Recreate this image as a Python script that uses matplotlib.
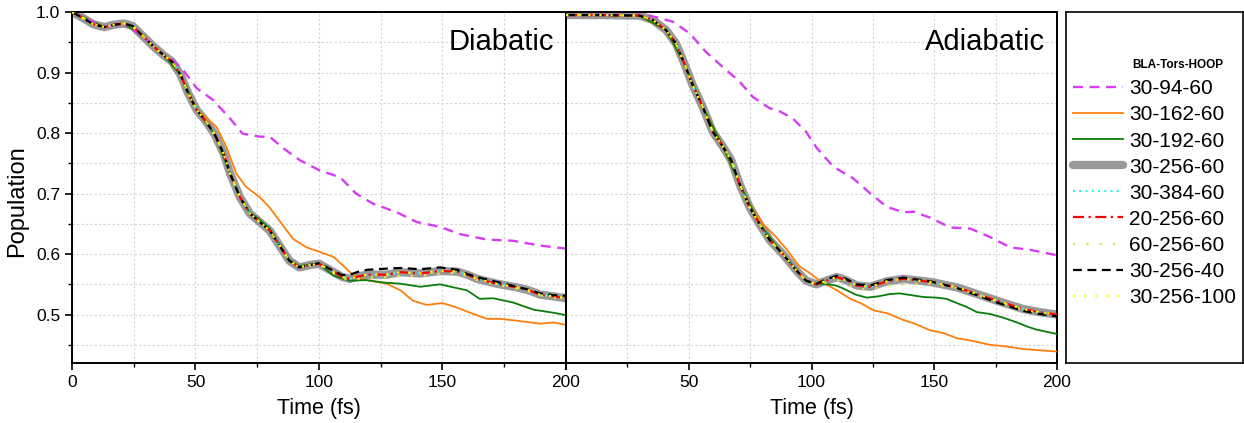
import numpy as np
import matplotlib
matplotlib.use('Agg')
import matplotlib.pyplot as plt
from matplotlib.lines import Line2D
from matplotlib.ticker import MultipleLocator, FixedLocator

plt.rcParams['font.family'] = ['Liberation Sans', 'DejaVu Sans']

# ---------------- diabatic population ----------------
t_dia_main = [0, 4.5, 8.5, 13, 17, 21, 24.5, 29, 33, 37, 40.5, 44, 47, 50.5, 54.5, 58, 61.5, 64,
              68, 72, 76, 80, 84, 88, 92, 96.5, 100, 106, 109.5, 112.5, 116, 119.5, 127.5, 133,
              141, 149, 156, 160, 164, 168, 172, 180, 185, 189.5, 195, 200]
p_dia_main = [1.000, 0.990, 0.980, 0.975, 0.979, 0.981, 0.977, 0.959, 0.943, 0.929, 0.918, 0.896,
              0.866, 0.838, 0.818, 0.796, 0.765, 0.733, 0.694, 0.667, 0.653, 0.639, 0.614, 0.589,
              0.578, 0.582, 0.584, 0.570, 0.562, 0.559, 0.563, 0.566, 0.566, 0.570, 0.568, 0.572,
              0.571, 0.566, 0.559, 0.555, 0.551, 0.545, 0.540, 0.533, 0.530, 0.527]
# 30-256-40 sits a little higher after ~115 fs
p_dia_40 = [1.000, 0.990, 0.980, 0.975, 0.979, 0.981, 0.977, 0.959, 0.943, 0.929, 0.918, 0.896,
            0.866, 0.838, 0.818, 0.796, 0.765, 0.733, 0.694, 0.667, 0.653, 0.639, 0.614, 0.589,
            0.578, 0.582, 0.585, 0.572, 0.565, 0.566, 0.571, 0.574, 0.576, 0.577, 0.575, 0.578,
            0.574, 0.567, 0.562, 0.558, 0.554, 0.546, 0.541, 0.535, 0.532, 0.531]
# 60-256-60 runs along the lower edge of the band
p_dia_60hi = [1.000, 0.990, 0.980, 0.975, 0.979, 0.981, 0.977, 0.959, 0.943, 0.929, 0.918, 0.896,
              0.866, 0.838, 0.818, 0.796, 0.765, 0.733, 0.694, 0.667, 0.653, 0.639, 0.614, 0.589,
              0.578, 0.582, 0.583, 0.568, 0.560, 0.557, 0.559, 0.561, 0.562, 0.564, 0.564, 0.568,
              0.569, 0.563, 0.557, 0.553, 0.549, 0.543, 0.538, 0.532, 0.528, 0.526]

t_dia_94 = [0, 13, 21, 29, 37, 40, 44.5, 50.5, 57, 64, 69, 76, 80, 85.5, 92.3, 100.4, 108.5, 115,
            122, 131.5, 139.5, 149, 157, 168, 178.5, 189.5, 200]
p_dia_94 = [1.000, 0.975, 0.981, 0.959, 0.929, 0.923, 0.907, 0.874, 0.855, 0.824, 0.799, 0.794,
            0.794, 0.775, 0.755, 0.738, 0.727, 0.700, 0.683, 0.669, 0.653, 0.645, 0.633, 0.624,
            0.622, 0.614, 0.609]

t_dia_162 = [0, 13, 21, 29, 37, 44, 50.5, 53, 58.5, 62.5, 66.5, 70.5, 76, 80, 84, 89.5, 95, 100,
             106, 110, 112.5, 116, 119.5, 127.5, 133, 138, 143.5, 150, 155.5, 162.5, 168, 173,
             180, 189.5, 195, 200]
p_dia_162 = [1.000, 0.975, 0.981, 0.959, 0.929, 0.896, 0.838, 0.830, 0.810, 0.777, 0.733, 0.711,
             0.694, 0.677, 0.655, 0.625, 0.611, 0.604, 0.595, 0.580, 0.570, 0.560, 0.557, 0.551,
             0.540, 0.523, 0.516, 0.519, 0.512, 0.501, 0.493, 0.493, 0.490, 0.485, 0.487, 0.483]

t_dia_192 = [0, 13, 21, 29, 37, 44, 50.5, 58, 64, 68, 72, 75, 80, 84, 88, 92, 96.5, 100, 106,
             112.5, 119, 126, 133, 141, 149, 155.5, 160, 165, 170.5, 178.5, 187, 195, 200]
p_dia_192 = [1.000, 0.975, 0.981, 0.959, 0.929, 0.896, 0.838, 0.796, 0.733, 0.694, 0.668, 0.660,
             0.642, 0.615, 0.590, 0.580, 0.583, 0.584, 0.564, 0.556, 0.557, 0.553, 0.551, 0.546,
             0.550, 0.544, 0.540, 0.526, 0.527, 0.520, 0.508, 0.503, 0.499]

# ---------------- adiabatic population ----------------
t_adi_main = [0, 14, 30, 35.3, 40.8, 44.8, 48.2, 51.6, 55.7, 59.8, 64, 67.3, 70.7, 74.7, 78.8,
              83, 88.3, 93.8, 97.8, 102, 106, 110.3, 114, 118.5, 124, 130.7, 137.5, 148.4, 159.2,
              167.4, 175.5, 186.4, 193, 200]
p_adi_main = [0.995, 0.995, 0.994, 0.987, 0.970, 0.948, 0.915, 0.879, 0.843, 0.802, 0.777, 0.755,
              0.716, 0.678, 0.650, 0.623, 0.600, 0.573, 0.556, 0.550, 0.556, 0.562, 0.557, 0.548,
              0.546, 0.555, 0.559, 0.554, 0.545, 0.534, 0.523, 0.509, 0.504, 0.500]
p_adi_40 = [0.995, 0.995, 0.994, 0.987, 0.970, 0.948, 0.915, 0.879, 0.843, 0.802, 0.777, 0.755,
            0.716, 0.678, 0.650, 0.623, 0.600, 0.573, 0.556, 0.551, 0.558, 0.564, 0.559, 0.550,
            0.548, 0.557, 0.561, 0.555, 0.544, 0.532, 0.520, 0.506, 0.501, 0.497]
p_adi_60hi = [0.995, 0.995, 0.994, 0.987, 0.970, 0.948, 0.915, 0.879, 0.843, 0.802, 0.777, 0.755,
              0.716, 0.678, 0.650, 0.623, 0.600, 0.573, 0.556, 0.549, 0.553, 0.557, 0.551, 0.543,
              0.541, 0.548, 0.550, 0.551, 0.544, 0.533, 0.522, 0.508, 0.503, 0.500]

t_adi_94 = [0, 30, 34, 38, 43.5, 50.3, 57, 63.9, 70.7, 76, 82.9, 87, 92.4, 97.8, 102, 105, 109,
            117, 124, 130.7, 137.5, 141.6, 148.4, 156.5, 164.7, 172.8, 181, 189, 200]
p_adi_94 = [0.995, 0.995, 0.994, 0.990, 0.984, 0.965, 0.934, 0.909, 0.885, 0.860, 0.841, 0.836,
            0.824, 0.802, 0.776, 0.762, 0.744, 0.725, 0.700, 0.678, 0.669, 0.670, 0.660, 0.644,
            0.642, 0.628, 0.611, 0.607, 0.598]

t_adi_162 = [0, 30, 40.8, 48.2, 55.7, 64, 70.7, 74.7, 80.2, 85.6, 90, 95, 99.5, 104, 110, 115.8,
             120, 125.3, 131, 137.5, 142, 148.4, 154, 159.2, 165, 172.8, 180, 186.4, 193, 200]
p_adi_162 = [0.995, 0.994, 0.970, 0.915, 0.843, 0.777, 0.716, 0.683, 0.650, 0.628, 0.607, 0.580,
             0.568, 0.554, 0.541, 0.526, 0.519, 0.507, 0.502, 0.491, 0.485, 0.474, 0.469, 0.461,
             0.457, 0.450, 0.447, 0.443, 0.441, 0.439]

t_adi_192 = [0, 30, 40.8, 48.2, 55.7, 64, 70.7, 78.8, 88.3, 97.8, 102, 105, 110, 113, 118, 122.5,
             127, 132, 136, 145.6, 151, 155, 159.2, 163, 167.4, 172.8, 178, 183.7, 188, 191.8, 200]
p_adi_192 = [0.995, 0.994, 0.970, 0.915, 0.843, 0.777, 0.716, 0.650, 0.600, 0.556, 0.550, 0.551,
             0.548, 0.543, 0.533, 0.528, 0.530, 0.534, 0.535, 0.529, 0.528, 0.526, 0.519, 0.513,
             0.504, 0.501, 0.495, 0.487, 0.480, 0.475, 0.468]

legend_labels = ['30-94-60', '30-162-60', '30-192-60', '30-256-60', '30-384-60',
                 '20-256-60', '60-256-60', '30-256-40', '30-256-100']

# line styles for each parameter set
sty = {
    '30-94-60':   dict(color='#d53cf5', lw=1.7, ls=(0, (4.2, 2.8))),
    '30-162-60':  dict(color='#ff7f0e', lw=1.3, ls='-'),
    '30-192-60':  dict(color='#0a7d0a', lw=1.3, ls='-'),
    '30-256-60':  dict(color='#999999', lw=6.0, ls='-', solid_capstyle='round'),
    '30-384-60':  dict(color='#33f0f0', lw=1.5, ls=(0, (1, 2))),
    '20-256-60':  dict(color='#ff0000', lw=1.6, ls=(0, (5, 2, 1, 2))),
    '60-256-60':  dict(color='#e4e050', lw=1.6, ls=(0, (1, 5))),
    '30-256-40':  dict(color='#000000', lw=1.6, ls=(0, (4, 2.5))),
    '30-256-100': dict(color='#ffff00', lw=1.6, ls=(0, (1, 4))),
}

fig = plt.figure(figsize=(12.44, 4.23), dpi=100)
ax1 = fig.add_axes([72 / 1244, 60 / 423, 494 / 1244, 351 / 423])
ax2 = fig.add_axes([566 / 1244, 60 / 423, 491 / 1244, 351 / 423])
axl = fig.add_axes([1066 / 1244, 60 / 423, 177 / 1244, 351 / 423])


def draw_panel(ax, t_main, p_main, p40, p60hi, t94, p94, t162, p162, t192, p192):
    ax.plot(t_main, p_main, zorder=2, **sty['30-256-60'])
    ax.plot(t162, p162, zorder=3, **sty['30-162-60'])
    ax.plot(t192, p192, zorder=3, **sty['30-192-60'])
    ax.plot(t94, p94, zorder=3, **sty['30-94-60'])
    ax.plot(t_main, p_main, zorder=4, **sty['30-384-60'])
    ax.plot(t_main, p_main, zorder=5, **sty['20-256-60'])
    ax.plot(t_main, p40, zorder=6, **sty['30-256-40'])
    ax.plot(t_main, p60hi, zorder=7, **sty['60-256-60'])
    ax.plot(t_main, p_main, zorder=7, **sty['30-256-100'])

    ax.set_xlim(0, 200)
    ax.set_ylim(0.42, 1.0)
    ax.xaxis.set_major_locator(MultipleLocator(50))
    ax.xaxis.set_minor_locator(MultipleLocator(25))
    ax.yaxis.set_major_locator(MultipleLocator(0.1))
    ax.yaxis.set_minor_locator(MultipleLocator(0.05))
    ax.grid(True, which='both', color='#d4d4d4', lw=0.8, ls=(0, (2, 2)), zorder=0)
    ax.set_axisbelow(True)
    for s in ax.spines.values():
        s.set_linewidth(1.4)
    ax.tick_params(which='major', direction='out', length=5, width=1.2, labelsize=12.5)
    ax.tick_params(which='minor', direction='out', length=3, width=1.0)
    ax.tick_params(top=False, right=False)
    ax.set_xlabel('Time (fs)', fontsize=15.5, labelpad=6)


draw_panel(ax1, t_dia_main, p_dia_main, p_dia_40, p_dia_60hi, t_dia_94, p_dia_94,
           t_dia_162, p_dia_162, t_dia_192, p_dia_192)
draw_panel(ax2, t_adi_main, p_adi_main, p_adi_40, p_adi_60hi, t_adi_94, p_adi_94,
           t_adi_162, p_adi_162, t_adi_192, p_adi_192)

ax1.set_ylabel('Population', fontsize=17)
ax1.yaxis.set_label_coords(-0.089, 0.46)
ax1.yaxis.set_major_formatter(matplotlib.ticker.FormatStrFormatter('%.1f'))
ax2.tick_params(axis='y', which='both', left=False, labelleft=False)
# the shared edge already carries "200" from the left panel
ax2.xaxis.set_major_locator(FixedLocator([0, 50, 100, 150, 200]))
ax2.set_xticklabels(['', '50', '100', '150', '200'])

ax1.text(0.975, 0.915, 'Diabatic', transform=ax1.transAxes, ha='right', va='center', fontsize=21)
ax2.text(0.975, 0.915, 'Adiabatic', transform=ax2.transAxes, ha='right', va='center', fontsize=21)

# legend box on the right
axl.set_xticks([])
axl.set_yticks([])
for s in axl.spines.values():
    s.set_linewidth(1.2)
handles = [Line2D([], [], **sty[lab]) for lab in legend_labels]
axl.legend(handles, legend_labels, loc='upper left', bbox_to_anchor=(0.017, 0.82),
           frameon=False, fontsize=15, handlelength=2.4, handletextpad=0.29,
           labelspacing=0.34, borderaxespad=0.0, borderpad=0.2)
axl.text(0.633, 0.849, 'BLA-Tors-HOOP', transform=axl.transAxes, ha='center', va='center',
         fontsize=8.5, fontweight='bold')

fig.savefig('out.png', dpi=100)
